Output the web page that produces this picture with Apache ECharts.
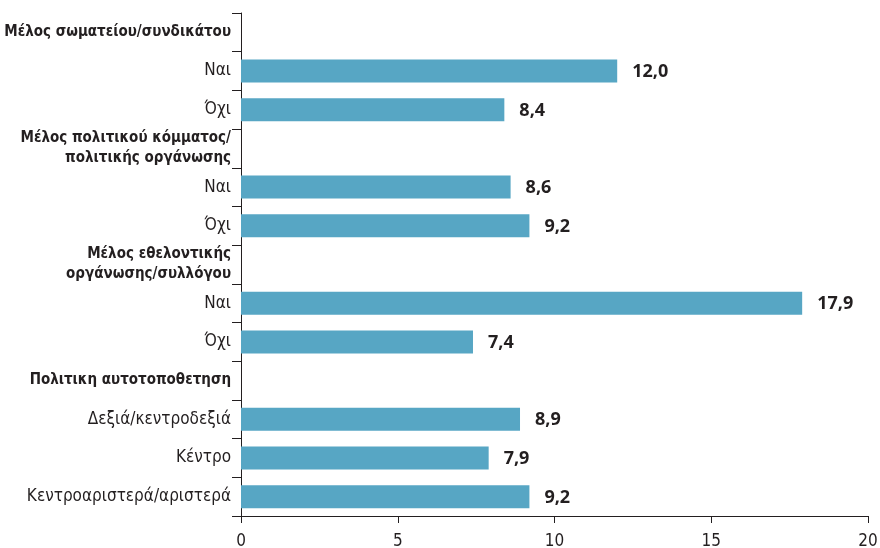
<!DOCTYPE html>
<html><head><meta charset="utf-8">
<script src="https://cdn.jsdelivr.net/npm/echarts@6/dist/echarts.min.js"></script>
<style>html,body{margin:0;padding:0;background:#fff}#c{width:880px;height:548px}</style>
</head><body><div id="c"></div>
<script>
const categories = [
  'Μέλος σωματείου/συνδικάτου',
  'Ναι', 'Όχι',
  'Μέλος πολιτικού κόμματος/\nπολιτικής οργάνωσης',
  'Ναι', 'Όχι',
  'Μέλος εθελοντικής\nοργάνωσης/συλλόγου',
  'Ναι', 'Όχι',
  'Πολιτικη αυτοτοποθετηση',
  'Δεξιά/κεντροδεξιά', 'Κέντρο', 'Κεντροαριστερά/αριστερά'
];
const headerFlags = [true,false,false,true,false,false,true,false,false,true,false,false,false];
const values = [null, 12.0, 8.4, null, 8.6, 9.2, null, 17.9, 7.4, null, 8.9, 7.9, 9.2];
const xTicks = [0, 5, 10, 15, 20];

const TXT = '#231f20';
const NARROW = '"Liberation Sans Narrow", "DejaVu Sans Condensed", sans-serif';
const chart = echarts.init(document.getElementById('c'), null, {renderer:'canvas'});
chart.setOption({
  animation: false,
  grid: {left: 241, right: 12, top: 13, bottom: 32, containLabel: false, outerBoundsMode: 'none'},
  xAxis: {
    type: 'value', min: xTicks[0], max: xTicks[xTicks.length-1], interval: 5,
    splitLine: {show: false},
    axisLine: {show: true, lineStyle: {color: TXT, width: 1}},
    axisTick: {show: true, length: 7, lineStyle: {color: TXT}},
    axisLabel: {color: TXT, fontFamily: NARROW, fontSize: 17, margin: 17}
  },
  yAxis: {
    type: 'category', inverse: true, data: categories,
    axisLine: {show: true, lineStyle: {color: TXT, width: 1}},
    axisTick: {show: true, length: 9, lineStyle: {color: TXT}},
    axisLabel: {
      margin: 10, align: 'right',
      formatter: function(v, i) {
        const lines = v.split('\n');
        const key = headerFlags[i] ? 'h' : 'n';
        return lines.map(l => '{' + key + '|' + l + '}').join('\n');
      },
      rich: {
        h: {fontFamily: NARROW, fontWeight: 'bold', fontSize: 15, color: TXT, align: 'right', lineHeight: 20},
        n: {fontFamily: NARROW, fontSize: 17, color: TXT, align: 'right'}
      }
    }
  },
  series: [{
    type: 'bar', data: values, barWidth: 23,
    itemStyle: {color: '#57A6C4'},
    label: {
      show: true, position: 'right', distance: 15, offset: [0, 1],
      color: TXT, fontFamily: '"Open Sans", sans-serif', fontWeight: 'bold', fontSize: 18,
      formatter: p => p.value == null ? '' : p.value.toFixed(1).replace('.', ',')
    }
  }]
});
</script></body></html>
